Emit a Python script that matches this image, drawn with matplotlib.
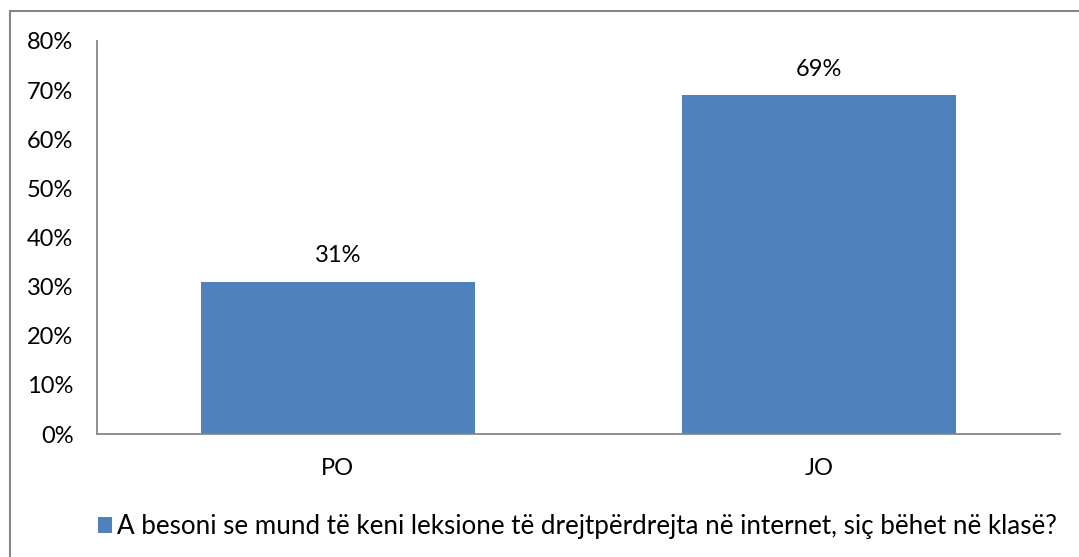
import matplotlib.pyplot as plt
from matplotlib.patches import Rectangle
from matplotlib.ticker import PercentFormatter

# values
categories = ['PO', 'JO']
values = [31, 69]
legend_label = 'A besoni se mund të keni leksione të drejtpërdrejta në internet, siç bëhet në klasë?'

bar_color = '#4F81BD'
grey = '#868686'
fs = 17
plt.rcParams['font.family'] = ['Lato', 'DejaVu Sans']

fig = plt.figure(figsize=(10.79, 5.57), dpi=100)
ax = fig.add_axes([0.0899, 0.2208, 0.8925, 0.7056])

bars = ax.bar(categories, values, width=0.57, color=bar_color, label=legend_label)
for b, v in zip(bars, values):
    ax.annotate(f'{v}%', (b.get_x() + b.get_width() / 2, v), xytext=(0, 11),
                textcoords='offset points', ha='center', va='bottom', fontsize=fs)

ax.set_xlim(-0.5, 1.5)
ax.set_ylim(0, 80)
ax.set_yticks(range(0, 81, 10))
ax.yaxis.set_major_formatter(PercentFormatter(decimals=0))
ax.tick_params(length=0, labelsize=fs, colors='black')
ax.tick_params(axis='x', pad=17)
ax.tick_params(axis='y', pad=17)
for s in ['top', 'right']:
    ax.spines[s].set_visible(False)
for s in ['left', 'bottom']:
    ax.spines[s].set_color(grey)
    ax.spines[s].set_linewidth(1.3)

fig.legend(loc='center left', bbox_to_anchor=(0.069, 0.055), frameon=False,
           fontsize=18.7, handlelength=0.55, handleheight=0.55, handletextpad=0.2)

# outer chart border (top and left visible)
fig.patches.append(Rectangle((10 / 1079, -0.1), 1.2, 1 - 11 / 557 + 0.1,
                             transform=fig.transFigure, fill=False,
                             edgecolor=grey, linewidth=1.5))

fig.savefig('out.png', dpi=100)
